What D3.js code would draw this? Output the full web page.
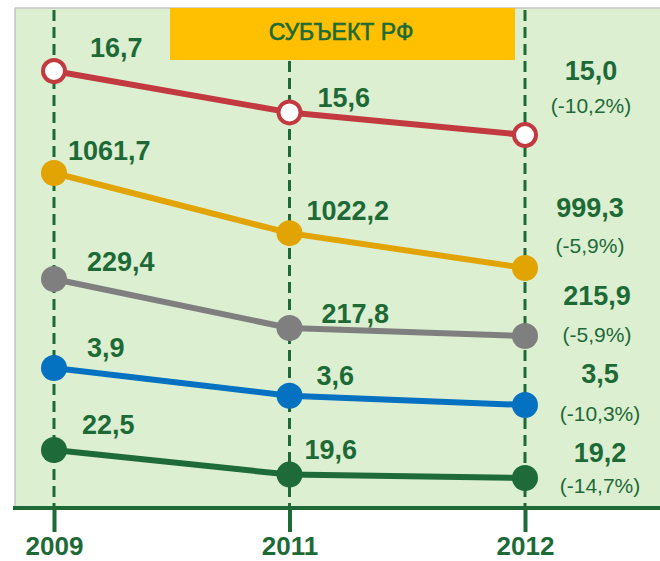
<!DOCTYPE html>
<html>
<head>
<meta charset="utf-8">
<script src="https://cdn.jsdelivr.net/npm/d3@7/dist/d3.min.js"></script>
<style>
  html, body { margin: 0; padding: 0; background: #ffffff; }
  svg { display: block; font-family: "Liberation Sans", Arial, sans-serif; }
</style>
</head>
<body>
<svg id="chart" width="660" height="561"></svg>
<script>
// ---------------- DATA ----------------
const years = ["2009", "2011", "2012"];
const titleText = "СУБЪЕКТ РФ";
const seriesRed    = [16.7, 15.6, 15.0];
const seriesOrange = [1061.7, 1022.2, 999.3];
const seriesGray   = [229.4, 217.8, 215.9];
const seriesBlue   = [3.9, 3.6, 3.5];
const seriesGreen  = [22.5, 19.6, 19.2];
const changePct    = [-10.2, -5.9, -5.9, -10.3, -14.7];

// ---------------- LAYOUT / STYLE ----------------
const W = 660, H = 561;
const textGreen = "#1d6a37";
const styles = [
  { values: seriesRed,    color: "#c23a40", hollow: true,  band: [135, 71],
    lab: [[36, -14], [28, -5]],  end: [66, -55, -22] },
  { values: seriesOrange, color: "#e2a402", hollow: false, band: [268, 173],
    lab: [[14, -13], [17, -13]], end: [65, -51, -15] },
  { values: seriesGray,   color: "#7f7f7f", hollow: false, band: [336, 279],
    lab: [[33, -8], [32, -5]],   end: [72, -31, 6] },
  { values: seriesBlue,   color: "#0571c1", hollow: false, band: [405, 368],
    lab: [[33, -11], [27, -11]], end: [75, -22, 16] },
  { values: seriesGreen,  color: "#1e6a39", hollow: false, band: [478, 450],
    lab: [[28, -16], [15, -16]], end: [75, -16, 15] }
];

const locale = d3.formatLocale({ decimal: ",", thousands: " ", grouping: [3], currency: ["", ""], minus: "-" });
const fmtNum = locale.format(".1f");

const svg = d3.select("#chart");

const x = d3.scalePoint().domain(years).range([54, 525]).padding(0);

// background panel
svg.append("rect").attr("x", 15).attr("y", 8).attr("width", W - 15).attr("height", 500)
  .attr("fill", "#dcefd1");
svg.append("line").attr("x1", 15).attr("x2", 15).attr("y1", 8).attr("y2", 508)
  .attr("stroke", "#c4c4c4").attr("stroke-width", 1.5);
svg.append("line").attr("x1", 15).attr("x2", W).attr("y1", 8).attr("y2", 8)
  .attr("stroke", "#c4c4c4").attr("stroke-width", 1.5);

// dashed vertical grid
svg.append("g").selectAll("line").data(years).join("line")
  .attr("x1", d => x(d)).attr("x2", d => x(d))
  .attr("y1", 10).attr("y2", 508)
  .attr("stroke", textGreen).attr("stroke-width", 3)
  .attr("stroke-dasharray", "11,6");

// title box
svg.append("rect").attr("x", 170).attr("y", 8).attr("width", 345).attr("height", 52)
  .attr("fill", "#fec000");
svg.append("text").attr("x", 341).attr("y", 40).attr("text-anchor", "middle")
  .attr("fill", textGreen).attr("font-size", 23).attr("font-weight", "normal")
  .attr("stroke", textGreen).attr("stroke-width", 0.6)
  .text(titleText);

// x axis
const axis = svg.append("g").attr("transform", "translate(0,508)")
  .call(d3.axisBottom(x).tickSize(24).tickPadding(6));
axis.select(".domain").remove();
axis.selectAll(".tick line").attr("stroke", textGreen).attr("stroke-width", 4);
axis.selectAll(".tick text")
  .attr("fill", textGreen).attr("font-size", 26).attr("font-weight", "bold")
  .attr("font-family", "Liberation Sans, Arial, sans-serif")
  .attr("dy", null).attr("y", 47);
svg.append("line").attr("x1", 13).attr("x2", W).attr("y1", 508).attr("y2", 508)
  .attr("stroke", textGreen).attr("stroke-width", 4);

// series
styles.forEach((s, i) => {
  const y = d3.scaleLinear().domain(d3.extent(s.values)).range(s.band);
  const pts = s.values.map((v, j) => ({ year: years[j], v, j }));
  const line = d3.line().x(d => x(d.year)).y(d => y(d.v));
  const g = svg.append("g");
  g.append("path").datum(pts).attr("d", line)
    .attr("fill", "none").attr("stroke", s.color).attr("stroke-width", 6)
    .attr("stroke-linejoin", "round");
  g.selectAll("circle").data(pts).join("circle")
    .attr("cx", d => x(d.year)).attr("cy", d => y(d.v))
    .attr("r", s.hollow ? 11 : 13)
    .attr("fill", s.hollow ? "#ffffff" : s.color)
    .attr("stroke", s.color).attr("stroke-width", s.hollow ? 4 : 0);

  // labels for first two years
  g.selectAll("text.val").data(pts.slice(0, 2)).join("text")
    .attr("class", "val")
    .attr("x", d => x(d.year) + s.lab[d.j][0])
    .attr("y", d => y(d.v) + s.lab[d.j][1])
    .attr("fill", textGreen).attr("font-size", 27).attr("font-weight", "bold")
    .text(d => fmtNum(d.v));

  // last year label with change
  const last = pts[2];
  const cx = x(last.year) + s.end[0];
  g.append("text").attr("x", cx).attr("y", y(last.v) + s.end[1])
    .attr("text-anchor", "middle").attr("fill", textGreen)
    .attr("font-size", 27).attr("font-weight", "bold")
    .text(fmtNum(last.v));
  g.append("text").attr("x", cx).attr("y", y(last.v) + s.end[2])
    .attr("text-anchor", "middle").attr("fill", textGreen)
    .attr("font-size", 21)
    .text("(" + fmtNum(changePct[i]) + "%)");
});
</script>
</body>
</html>
